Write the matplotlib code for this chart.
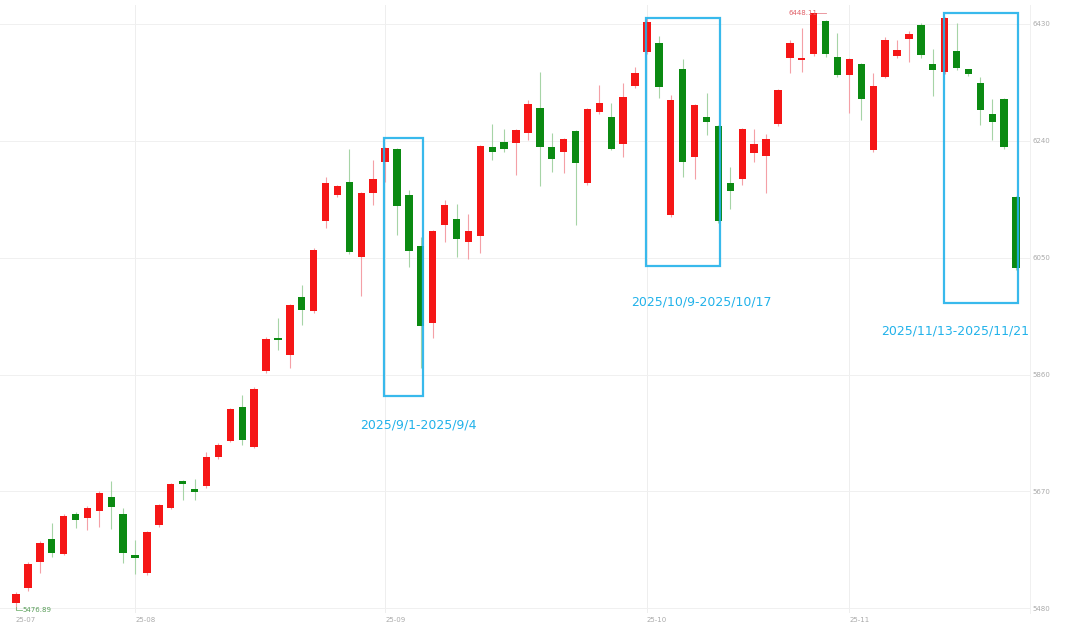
import matplotlib.pyplot as plt
from matplotlib.patches import Rectangle
import pandas as pd
import numpy as np

# trading days 2025-07-18 .. 2025-11-21 (National Day holiday Oct 1-8 removed)
days = pd.bdate_range('2025-07-18', '2025-11-21')
days = days[(days < '2025-10-01') | (days > '2025-10-08')]

opens = [
    5488.8, 5513.1, 5555.4, 5592.7, 5568.4, 5633.3, 5626.8, 5638.2, 5660.9, 5633.3,
    5566.7, 5537.5, 5615.4, 5643.0, 5686.9, 5673.9, 5678.8, 5725.9, 5751.9, 5807.1,
    5742.1, 5865.5, 5919.1, 5891.5, 5985.7, 5963.0, 6109.1, 6151.3, 6172.4, 6050.7,
    6154.6, 6204.9, 6226.0, 6151.3, 6068.5, 5943.5, 6102.6, 6112.4, 6075.0, 6084.8,
    6229.3, 6237.4, 6235.8, 6252.0, 6292.6, 6229.3, 6221.2, 6255.3, 6170.8, 6286.1,
    6278.0, 6234.2, 6328.3, 6383.6, 6398.2, 6118.9, 6355.9, 6213.0, 6278.0, 6263.4,
    6170.8, 6177.3, 6219.5, 6214.7, 6266.6, 6373.8, 6370.6, 6380.3, 6433.9, 6375.4,
    6346.2, 6364.1, 6224.4, 6343.0, 6377.1, 6404.7, 6427.4, 6364.1, 6351.1, 6385.2,
    6355.9, 6333.2, 6282.9, 6307.2, 6148.1]
closes = [
    5503.4, 5552.1, 5586.2, 5570.0, 5630.1, 5623.6, 5643.0, 5667.4, 5644.7, 5570.0,
    5561.9, 5604.1, 5647.9, 5682.0, 5682.0, 5669.0, 5725.9, 5745.3, 5803.8, 5753.5,
    5836.3, 5917.5, 5915.9, 5972.7, 5964.6, 6062.0, 6170.8, 6165.9, 6058.8, 6154.6,
    6177.3, 6227.7, 6133.5, 6060.4, 5938.6, 6092.9, 6135.1, 6079.9, 6092.9, 6230.9,
    6221.2, 6226.0, 6256.9, 6299.1, 6229.3, 6209.8, 6242.3, 6203.3, 6291.0, 6300.7,
    6226.0, 6310.5, 6349.5, 6432.3, 6326.7, 6305.6, 6204.9, 6297.5, 6269.9, 6109.1,
    6157.8, 6258.5, 6234.2, 6242.3, 6321.9, 6398.2, 6373.8, 6446.9, 6380.3, 6346.2,
    6372.2, 6307.2, 6328.3, 6403.0, 6386.8, 6412.8, 6378.7, 6354.3, 6438.8, 6357.6,
    6347.8, 6289.4, 6269.9, 6229.3, 6032.8]
highs = [
    5506.6, 5556.0, 5590.0, 5618.7, 5633.0, 5636.0, 5646.3, 5670.0, 5686.9, 5643.0,
    5591.1, 5606.0, 5650.0, 5684.0, 5689.0, 5690.1, 5734.0, 5748.0, 5806.0, 5826.6,
    5839.0, 5921.0, 5951.6, 5975.0, 6005.2, 6065.0, 6180.6, 6168.0, 6226.0, 6157.0,
    6208.2, 6230.0, 6228.0, 6159.5, 6083.1, 6095.0, 6143.2, 6136.7, 6120.5, 6233.0,
    6266.6, 6258.5, 6259.0, 6305.6, 6351.1, 6252.0, 6245.0, 6257.0, 6293.0, 6330.0,
    6300.7, 6333.2, 6360.0, 6440.0, 6409.5, 6313.7, 6372.2, 6300.0, 6317.0, 6266.0,
    6196.8, 6261.0, 6258.5, 6250.4, 6324.0, 6403.0, 6422.5, 6448.11, 6436.0, 6414.4,
    6374.0, 6366.0, 6349.5, 6407.9, 6403.0, 6417.7, 6430.6, 6388.4, 6441.0, 6430.6,
    6350.0, 6343.0, 6307.2, 6310.0, 6150.0]
lows = [
    5476.89, 5509.0, 5537.5, 5563.5, 5566.0, 5610.6, 5607.3, 5612.2, 5609.0, 5553.8,
    5535.9, 5535.0, 5613.0, 5641.0, 5656.0, 5656.0, 5676.0, 5723.0, 5750.0, 5745.3,
    5740.0, 5863.0, 5899.6, 5870.4, 5940.2, 5960.0, 6097.8, 6149.0, 6056.0, 5987.3,
    6135.1, 6172.4, 6086.4, 6034.4, 5870.4, 5919.1, 6075.0, 6050.7, 6047.4, 6057.1,
    6208.2, 6221.2, 6183.8, 6240.7, 6165.9, 6188.7, 6187.1, 6102.6, 6168.0, 6284.0,
    6224.0, 6213.0, 6326.0, 6380.0, 6308.9, 6116.0, 6180.6, 6177.3, 6248.8, 6106.0,
    6128.6, 6167.6, 6204.9, 6154.6, 6264.0, 6349.5, 6351.1, 6378.0, 6375.4, 6344.0,
    6284.5, 6273.1, 6222.0, 6341.0, 6375.0, 6367.3, 6373.8, 6312.1, 6349.0, 6355.0,
    6345.0, 6265.0, 6240.7, 6227.0, 6030.0]

y_ticks = [5480, 5670, 5860, 6050, 6240, 6430]

# highlighted periods: (first day, last day, box top, box bottom, label)
periods = [
    ('2025-09-01', '2025-09-04', 6245, 5825, '2025/9/1-2025/9/4'),
    ('2025-10-09', '2025-10-17', 6440, 6036, '2025/10/9-2025/10/17'),
    ('2025-11-13', '2025-11-21', 6447, 5976, '2025/11/13-2025/11/21'),
]

RED = '#f51616'
GREEN = '#0b8a12'
BLUE = '#22b2ea'

o = np.array(opens)
c = np.array(closes)
x = np.arange(len(days))
up = c >= o

fig = plt.figure(figsize=(10.8, 6.41), dpi=100)
ax = fig.add_axes([0.0, 0.0437, 1030 / 1080, 0.948])

# wicks
ax.vlines(x[up], np.array(lows)[up], np.array(highs)[up], color='#f4a0a6', lw=0.8, zorder=2)
ax.vlines(x[~up], np.array(lows)[~up], np.array(highs)[~up], color='#a6d4a6', lw=0.8, zorder=2)

# bodies
body_h = np.maximum(np.abs(c - o), 4)
body_b = np.minimum(o, c)
ax.bar(x[up], body_h[up], bottom=body_b[up], width=0.62, color=RED, zorder=3)
ax.bar(x[~up], body_h[~up], bottom=body_b[~up], width=0.62, color=GREEN, zorder=3)

# highlight boxes (drawn from the first to the last candle of each period)
for start, end, top, bottom, label in periods:
    i0 = days.get_loc(pd.Timestamp(start))
    i1 = days.get_loc(pd.Timestamp(end))
    ax.add_patch(Rectangle((i0 - 0.05, bottom), i1 - i0 + 0.2, top - bottom,
                           fill=False, edgecolor=BLUE, lw=1.6, alpha=0.9, zorder=4))
ax.text(33.8, 5778, periods[0][4], color=BLUE, fontsize=9, ha='center', va='center')
ax.text(57.6, 5978, periods[1][4], color=BLUE, fontsize=9, ha='center', va='center')
ax.text(78.9, 5931, periods[2][4], color=BLUE, fontsize=9, ha='center', va='center')

# max / min markers
i_max = int(np.argmax(highs))
i_min = int(np.argmin(lows))
ax.plot([i_max, i_max + 1.0], [highs[i_max], highs[i_max]], color='#e88890', lw=0.6, zorder=2)
ax.text(i_max + 0.35, highs[i_max], f'{highs[i_max]:.2f}', color='#e06068', fontsize=5,
        ha='right', va='center', zorder=5)
ax.plot([i_min, i_min, i_min + 0.5], [lows[i_min] + 6, lows[i_min], lows[i_min]],
        color='#7ab87a', lw=0.6, zorder=2)
ax.text(i_min + 0.55, lows[i_min], f'{lows[i_min]:.2f}', color='#5a9e5a', fontsize=5,
        ha='left', va='center')

# month ticks at the first trading day of each month
month_pos = [i for i in range(len(days)) if i == 0 or days[i].month != days[i - 1].month]
month_lab = [days[i].strftime('%y-%m') for i in month_pos]
ax.set_xticks(month_pos)
ax.set_xticklabels(month_lab, ha='left')
for p in month_pos[1:]:
    ax.axvline(p, color='#eeeeee', lw=0.7, zorder=0)

ax.set_yticks(y_ticks)
ax.yaxis.tick_right()
for t in y_ticks:
    ax.axhline(t, color='#f0f0f0', lw=0.7, zorder=0)

ax.tick_params(axis='both', length=0, labelsize=5, labelcolor='#aaaaaa')
ax.tick_params(axis='x', pad=3)
ax.tick_params(axis='y', pad=2)

ax.set_xlim(-1.344, 85.17)
ax.set_ylim(5472.5, 6459.9)
for side in ['top', 'left', 'bottom']:
    ax.spines[side].set_visible(False)
ax.spines['right'].set_color('#f0f0f0')
ax.spines['right'].set_linewidth(0.7)

plt.savefig('out.png', dpi=100)
